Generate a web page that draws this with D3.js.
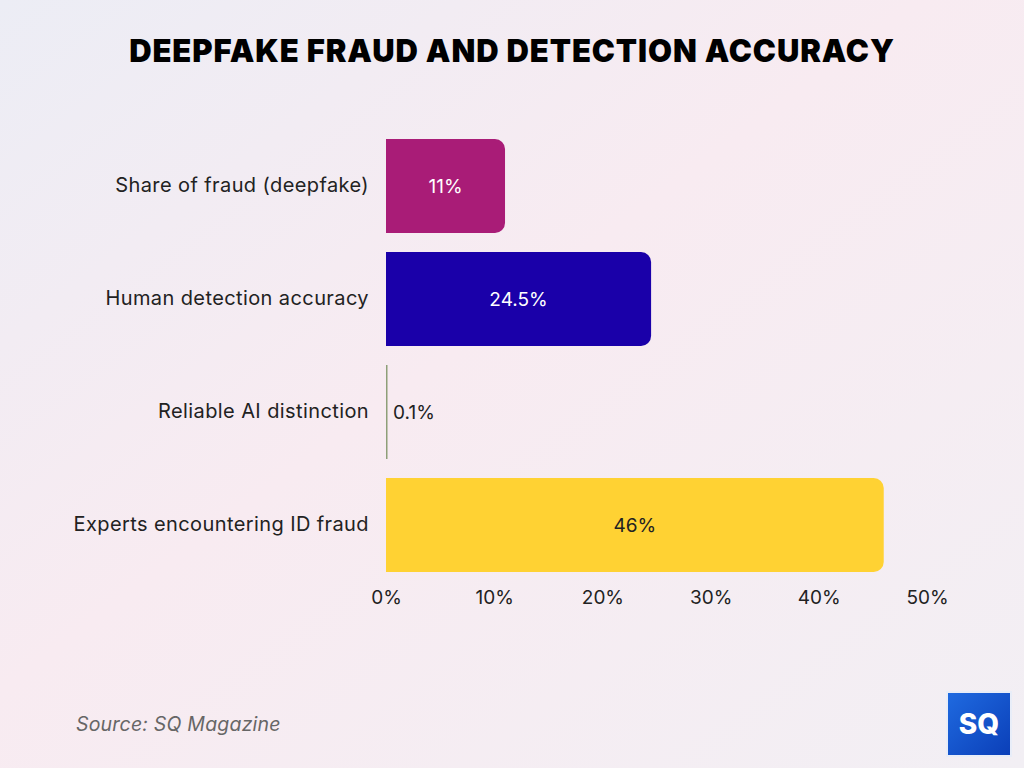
<!DOCTYPE html>
<html>
<head>
<meta charset="utf-8">
<script src="https://cdn.jsdelivr.net/npm/d3@7"></script>
<style>
  html, body { margin: 0; padding: 0; }
  body { width: 1024px; height: 768px; overflow: hidden; }
  svg { display: block; }
</style>
</head>
<body>
<svg id="chart" width="1024" height="768"></svg>
<script>
const categories = ["Share of fraud (deepfake)", "Human detection accuracy", "Reliable AI distinction", "Experts encountering ID fraud"];
const values = [11, 24.5, 0.1, 46];
const valueLabels = ["11%", "24.5%", "0.1%", "46%"];
const barColors = ["#A91C77", "#1A00A9", "#8E9F78", "#FFD233"];
const labelColors = ["#FFFFFF", "#FFFFFF", "#222222", "#222222"];
const xTicks = [0, 10, 20, 30, 40, 50];

const svg = d3.select("#chart");
const W = 1024, H = 768;

// background gradient
const defs = svg.append("defs");
const g1 = defs.append("linearGradient").attr("id", "bg").attr("x1", "0").attr("y1", "0").attr("x2", "1").attr("y2", "1");
g1.append("stop").attr("offset", "0%").attr("stop-color", "#ECEDF5");
g1.append("stop").attr("offset", "45%").attr("stop-color", "#F8EBF1");
g1.append("stop").attr("offset", "100%").attr("stop-color", "#F2EFF4");
svg.append("rect").attr("width", W).attr("height", H).attr("fill", "url(#bg)");

const lg = defs.append("linearGradient").attr("id", "logo").attr("x1", "0").attr("y1", "0").attr("x2", "1").attr("y2", "1");
lg.append("stop").attr("offset", "0%").attr("stop-color", "#1F6AE0");
lg.append("stop").attr("offset", "100%").attr("stop-color", "#0B3FB8");

// title
svg.append("text")
  .attr("x", 512).attr("y", 62)
  .attr("text-anchor", "middle")
  .attr("font-family", "Inter, 'DejaVu Sans', sans-serif")
  .attr("font-weight", 900)
  .attr("font-size", 31)
  .attr("letter-spacing", 0.9)
  .attr("fill", "#000")
  .text("DEEPFAKE FRAUD AND DETECTION ACCURACY");

const x = d3.scaleLinear().domain([0, 50]).range([386, 927]);
const y = d3.scaleBand().domain(categories).range([129.5, 581.5]).paddingInner(0.168).paddingOuter(0.084);

const r = 10;
function barPath(x0, x1, y0, h) {
  const w = x1 - x0;
  const rr = Math.min(r, w / 2, h / 2);
  if (w < 3) return `M${x0},${y0}h${w}v${h}h${-w}Z`;
  return `M${x0},${y0}H${x1 - rr}A${rr},${rr} 0 0 1 ${x1},${y0 + rr}V${y0 + h - rr}A${rr},${rr} 0 0 1 ${x1 - rr},${y0 + h}H${x0}Z`;
}

const data = categories.map((c, i) => ({ c, v: values[i], label: valueLabels[i], color: barColors[i], lc: labelColors[i] }));

svg.append("g").selectAll("path").data(data).join("path")
  .attr("d", d => barPath(x(0), Math.max(x(d.v), x(0) + 1.5), y(d.c), y.bandwidth()))
  .attr("fill", d => d.color);

// value labels
svg.append("g").selectAll("text").data(data).join("text")
  .attr("x", d => (x(d.v) - x(0) > 60) ? (x(0) + x(d.v)) / 2 : x(d.v) + 6)
  .attr("y", d => y(d.c) + y.bandwidth() / 2)
  .attr("dy", "0.35em")
  .attr("text-anchor", d => (x(d.v) - x(0) > 60) ? "middle" : "start")
  .attr("font-family", "Inter, 'Open Sans', sans-serif")
  .attr("font-size", 19)
  .attr("fill", d => d.lc)
  .text(d => d.label);

// y axis labels
const yAxis = d3.axisLeft(y).tickSize(0).tickPadding(17);
const ya = svg.append("g").attr("transform", `translate(${x(0)},0)`).call(yAxis);
ya.select(".domain").remove();
ya.selectAll("text")
  .attr("font-family", "Inter, 'Open Sans', sans-serif")
  .attr("font-size", 20)
  .attr("letter-spacing", 0.4)
  .attr("fill", "#222");

// x axis
const xAxis = d3.axisBottom(x).tickValues(xTicks).tickFormat(d => d + "%").tickSize(0).tickPadding(10);
const xa = svg.append("g").attr("transform", `translate(0,581)`).call(xAxis);
xa.select(".domain").remove();
xa.selectAll("text")
  .attr("font-family", "Inter, 'Open Sans', sans-serif")
  .attr("font-size", 19)
  .attr("fill", "#222");

// source
svg.append("text")
  .attr("x", 76).attr("y", 731)
  .attr("font-family", "Inter, 'Open Sans', sans-serif")
  .attr("font-style", "italic")
  .attr("font-size", 19.5)
  .attr("letter-spacing", 0.2)
  .attr("fill", "#666")
  .text("Source: SQ Magazine");

// logo
svg.append("rect").attr("x", 946).attr("y", 691).attr("width", 66).attr("height", 66).attr("fill", "#E8EDF8");
svg.append("rect").attr("x", 948).attr("y", 693).attr("width", 62).attr("height", 62).attr("fill", "url(#logo)");
svg.append("text")
  .attr("x", 979).attr("y", 734)
  .attr("text-anchor", "middle")
  .attr("font-family", "Inter, 'DejaVu Sans', sans-serif")
  .attr("font-weight", 800)
  .attr("font-size", 28)
  .attr("fill", "#fff")
  .text("SQ");
</script>
</body>
</html>
